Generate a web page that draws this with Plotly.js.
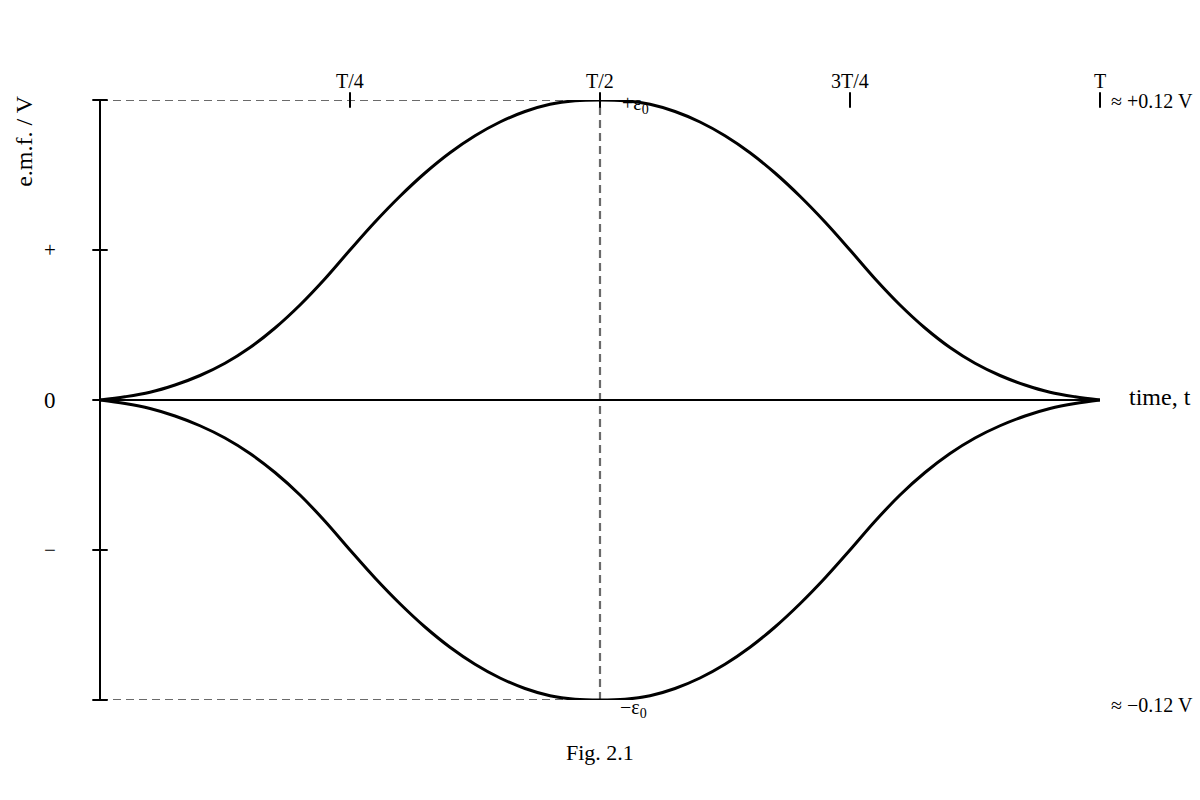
<!DOCTYPE html>
<html>
<head>
<meta charset="utf-8">
<script src="https://cdn.plot.ly/plotly-3.0.1.min.js"></script>
<style>
  html, body { margin: 0; padding: 0; background: #fff; }
  #chart { width: 1200px; height: 800px; }
</style>
</head>
<body>
<div id="chart"></div>
<script>
// time as a fraction of the period T
const tFrac = [
  0, 0.025, 0.05, 0.075, 0.1, 0.125, 0.15, 0.175, 0.2, 0.225,
  0.25, 0.275, 0.3, 0.325, 0.35, 0.375, 0.4, 0.425, 0.45, 0.475,
  0.5, 0.525, 0.55, 0.575, 0.6, 0.625, 0.65, 0.675, 0.7, 0.725,
  0.75, 0.775, 0.8, 0.825, 0.85, 0.875, 0.9, 0.925, 0.95, 0.975, 1
];

// e.m.f. (V)
const emfUpper = [
  0, 0.0013, 0.0031, 0.006, 0.0098, 0.0147, 0.021, 0.0288, 0.038, 0.0485,
  0.06, 0.0712, 0.0815, 0.0908, 0.0989, 0.1057, 0.1112, 0.1154, 0.1183, 0.1197,
  0.12, 0.1197, 0.1183, 0.1154, 0.1112, 0.1057, 0.0989, 0.0908, 0.0815, 0.0712,
  0.06, 0.0485, 0.038, 0.0288, 0.021, 0.0147, 0.0098, 0.006, 0.0031, 0.0013, 0
];
const emfLower = [
  0, -0.0014, -0.0034, -0.0064, -0.0103, -0.0152, -0.0214, -0.029, -0.038, -0.0485,
  -0.06, -0.0712, -0.0815, -0.0908, -0.0989, -0.1057, -0.1112, -0.1154, -0.1183, -0.1197,
  -0.12, -0.1197, -0.1183, -0.1154, -0.1112, -0.1057, -0.0989, -0.0908, -0.0815, -0.0712,
  -0.06, -0.0485, -0.038, -0.029, -0.0214, -0.0152, -0.0103, -0.0064, -0.0034, -0.0014, 0
];

const EMF_PEAK = 0.12;
const HALF_PERIOD = 0.5;

const yTickVals = [-0.12, -0.06, 0, 0.06, 0.12];
const yTickLabels = ["", "\u2212", "0", "+", ""];
const yTickSizes = [20, 21, 23, 21, 20];

const xTickVals = [0.25, 0.5, 0.75, 1];
const xTickLabels = ["T/4", "T/2", "3T/4", "T"];

const SERIF = "Liberation Serif, Times New Roman, serif";

const curveUpper = {
  type: "scatter", mode: "lines",
  x: tFrac, y: emfUpper,
  line: { color: "#000", width: 3, shape: "spline", smoothing: 1 },
  hoverinfo: "skip",
};
const curveLower = {
  type: "scatter", mode: "lines",
  x: tFrac, y: emfLower,
  line: { color: "#000", width: 3, shape: "spline", smoothing: 1 },
  hoverinfo: "skip",
};

// small tick marks crossing the axes
const yTicks = {
  type: "scatter", mode: "markers",
  x: yTickVals.map(() => 0), y: yTickVals,
  marker: { symbol: "line-ew", size: 11, line: { color: "#000", width: 2 } },
  cliponaxis: false, hoverinfo: "skip",
};
const xTicks = {
  type: "scatter", mode: "markers",
  x: xTickVals, y: xTickVals.map(() => EMF_PEAK),
  marker: { symbol: "line-ns", size: 11, line: { color: "#000", width: 2 } },
  cliponaxis: false, hoverinfo: "skip",
};

const dash = { color: "#6a6a6a", width: 2.2, dash: "8px,5px" };
const shapes = [
  { type: "line", xref: "x", yref: "y", x0: 0, x1: HALF_PERIOD, y0: EMF_PEAK, y1: EMF_PEAK, line: dash, layer: "below" },
  { type: "line", xref: "x", yref: "y", x0: 0, x1: HALF_PERIOD, y0: -EMF_PEAK, y1: -EMF_PEAK, line: dash, layer: "below" },
  { type: "line", xref: "x", yref: "y", x0: HALF_PERIOD, x1: HALF_PERIOD, y0: -EMF_PEAK, y1: EMF_PEAK, line: dash, layer: "below" },
];

const annotations = [];

function label(opts, size) {
  return Object.assign({
    showarrow: false, xanchor: "center", yanchor: "middle",
    font: { family: SERIF, size: size, color: "#000" },
  }, opts);
}

yTickVals.forEach((v, i) => {
  if (!yTickLabels[i]) return;
  annotations.push(label({ xref: "paper", yref: "y", x: -0.05, y: v, text: yTickLabels[i] }, yTickSizes[i]));
});

xTickVals.forEach((v, i) => {
  annotations.push(label({ xref: "x", yref: "y", x: v, y: EMF_PEAK, yshift: 19, text: xTickLabels[i] }, 20));
});

annotations.push(
  label({ xref: "paper", yref: "paper", x: -0.076, y: 0.932, text: "e.m.f. / V", textangle: -90 }, 24),
  label({ xref: "paper", yref: "y", x: 1.06, y: 0, yshift: 3, text: "time, t" }, 24),
  label({ xref: "paper", yref: "y", x: 1.009, y: EMF_PEAK, yshift: -1, xanchor: "left", text: "\u2248 +0.12 V" }, 20),
  label({ xref: "paper", yref: "y", x: 1.009, y: -EMF_PEAK, yshift: -5, xanchor: "left", text: "\u2248 \u22120.12 V" }, 20),
  label({ xref: "x", yref: "y", x: HALF_PERIOD, y: EMF_PEAK, xshift: 20, yshift: -4, xanchor: "left", text: "+\u03b5<sub>0</sub>" }, 20),
  label({ xref: "x", yref: "y", x: HALF_PERIOD, y: -EMF_PEAK, xshift: 18, yshift: -8, xanchor: "left", text: "\u2212\u03b5<sub>0</sub>" }, 20),
  label({ xref: "paper", yref: "paper", x: 0.5, y: -0.088, text: "Fig. 2.1" }, 22)
);

const layout = {
  width: 1200,
  height: 800,
  margin: { l: 100, r: 100, t: 100, b: 100 },
  paper_bgcolor: "#fff",
  plot_bgcolor: "#fff",
  showlegend: false,
  font: { family: SERIF, color: "#000" },
  xaxis: {
    range: [0, 1],
    showgrid: false,
    showticklabels: false,
    ticks: "",
    zeroline: true,
    zerolinecolor: "#000",
    zerolinewidth: 2.5,
    fixedrange: true,
  },
  yaxis: {
    range: [-EMF_PEAK, EMF_PEAK],
    showgrid: false,
    showticklabels: false,
    ticks: "",
    zeroline: true,
    zerolinecolor: "#000",
    zerolinewidth: 2.5,
    fixedrange: true,
  },
  shapes,
  annotations,
};

Plotly.newPlot("chart", [curveUpper, curveLower, yTicks, xTicks], layout, {
  displayModeBar: false,
  staticPlot: true,
});
</script>
</body>
</html>
